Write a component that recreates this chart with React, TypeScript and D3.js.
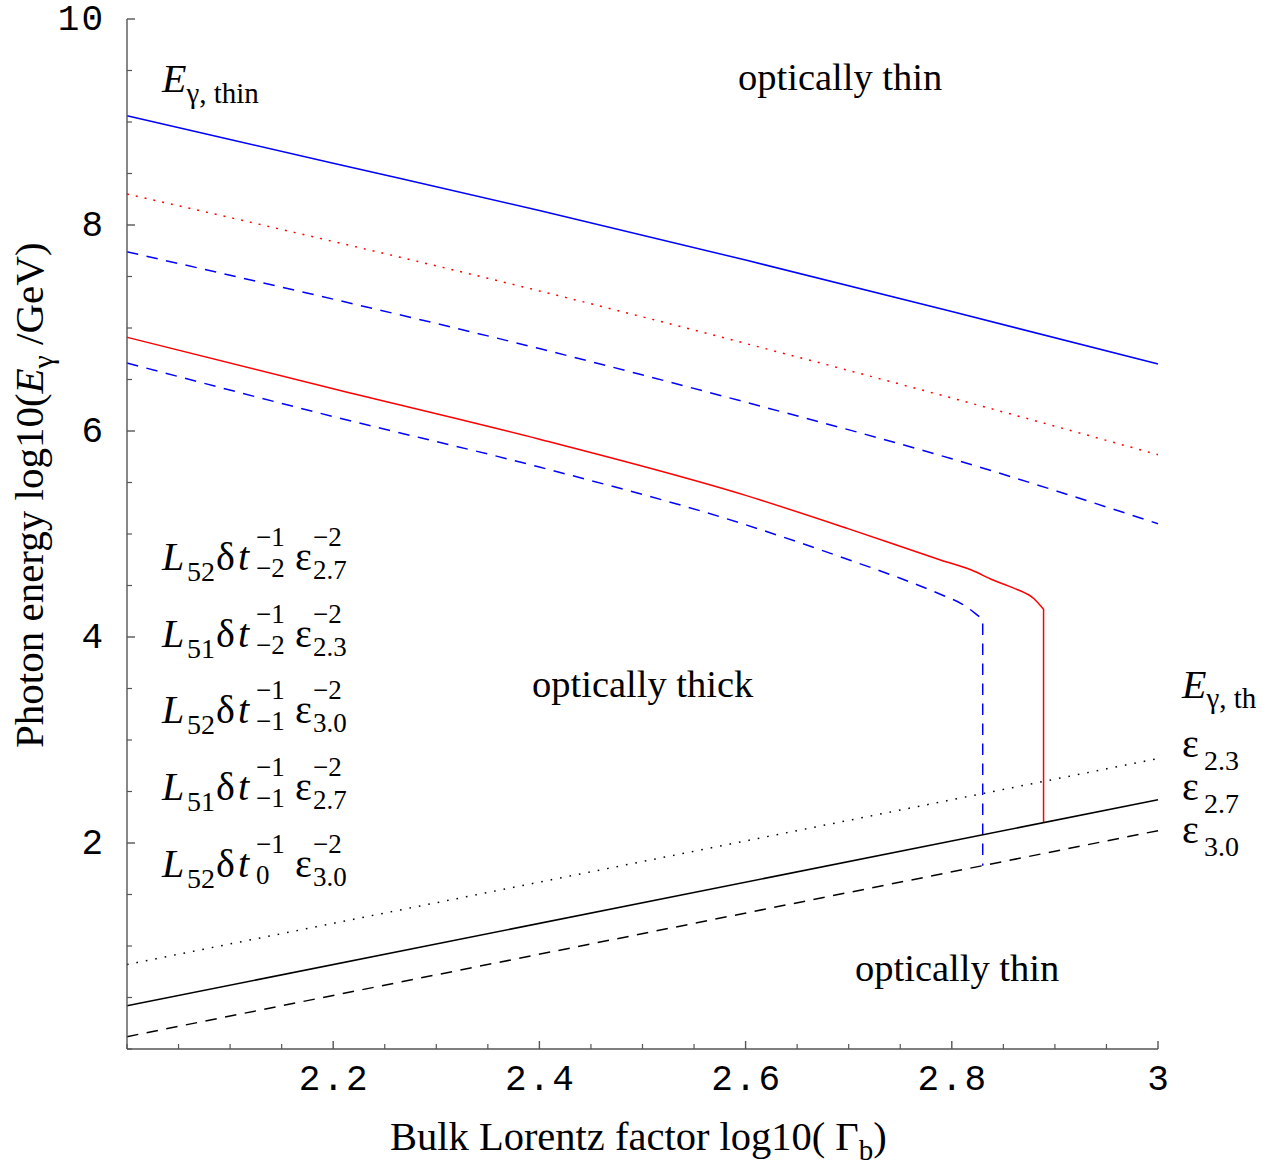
import React from "react";
import * as d3 from "d3";

const W = 1275;
const H = 1167;

// axes
const X_DOMAIN = [2, 3];
const Y_DOMAIN = [0, 10];
const xMajorTicks = [2.2, 2.4, 2.6, 2.8, 3];
const xTickLabels = ["2.2", "2.4", "2.6", "2.8", "3"];
const yMajorTicks = [2, 4, 6, 8, 10];
const yTickLabels = ["2", "4", "6", "8", "10"];

// optically thin boundaries (upper)
const thinX = [2.0, 2.2, 2.4, 2.6, 2.8, 3.0];
const thinBlueSolidY = [9.06, 8.6, 8.14, 7.66, 7.16, 6.65];
const thinRedDottedY = [8.3, 7.84, 7.36, 6.85, 6.32, 5.77];
const thinBlueDashedY = [7.74, 7.28, 6.8, 6.28, 5.73, 5.1];

// optically thick boundaries (with cutoff)
const thickRedX = [2.0, 2.2, 2.4, 2.6, 2.7, 2.789, 2.819, 2.84, 2.859, 2.88, 2.889, 2.889];
const thickRedY = [6.91, 6.41, 5.92, 5.375, 5.05, 4.748, 4.65, 4.553, 4.479, 4.369, 4.269, 2.198];
const thickBlueX = [2.0, 2.2, 2.4, 2.6, 2.7, 2.75, 2.79, 2.81, 2.822, 2.83, 2.83];
const thickBlueY = [6.66, 6.14, 5.65, 5.09, 4.75, 4.57, 4.41, 4.32, 4.235, 4.17, 1.78];

// threshold energies E_gamma,th
const thX = [2.0, 3.0];
const th23Y = [0.82, 2.82];
const th27Y = [0.42, 2.42];
const th30Y = [0.12, 2.12];

// legend formulas: [L subscript, dt subscript, epsilon subscript]
const legendL = ["52", "51", "52", "51", "52"];
const legendT = ["\u22122", "\u22122", "\u22121", "\u22121", "0"];
const legendE = ["2.7", "2.3", "3.0", "2.7", "3.0"];

const SERIF = "'Liberation Serif', 'Times New Roman', serif";
const MONO = "'Liberation Mono', 'DejaVu Sans Mono', monospace";

export default function App() {
  const x = d3.scaleLinear().domain(X_DOMAIN).range([127, 1158]);
  const y = d3.scaleLinear().domain(Y_DOMAIN).range([1049, 19]);

  // smooth curve through the readings; a trailing vertical drop is appended straight
  const curve = (xs: number[], ys: number[], dropLast = false) => {
    const n = dropLast ? xs.length - 1 : xs.length;
    const pts: [number, number][] = xs.slice(0, n).map((v, i) => [x(v), y(ys[i])]);
    let d = d3.line().curve(d3.curveMonotoneX)(pts) || "";
    if (dropLast) d += `L${x(xs[xs.length - 1])},${y(ys[ys.length - 1])}`;
    return d;
  };

  const xMinor = d3.range(2, 3.0001, 0.05).filter(
    (v) => !xMajorTicks.some((m) => Math.abs(m - v) < 1e-6)
  );
  const yMinor = d3.range(0, 10.0001, 0.5).filter(
    (v) => !yMajorTicks.some((m) => Math.abs(m - v) < 1e-6)
  );

  const axisColor = "#555";
  const sw = 1.5;

  return (
    <svg
      width={W}
      height={H}
      style={{ position: "absolute", left: 0, top: 0, background: "#fff" }}
    >
      <rect width={W} height={H} fill="#fff" />

      {/* curves */}
      <path d={curve(thinX, thinBlueSolidY)} fill="none" stroke="#0000ff" strokeWidth={sw} />
      <path d={curve(thinX, thinRedDottedY)} fill="none" stroke="#ff0000" strokeWidth={sw} strokeDasharray="2,7" />
      <path d={curve(thinX, thinBlueDashedY)} fill="none" stroke="#0000ff" strokeWidth={sw} strokeDasharray="11.5,8.5" />
      <path d={curve(thickRedX, thickRedY, true)} fill="none" stroke="#ff0000" strokeWidth={sw} />
      <path d={curve(thickBlueX, thickBlueY, true)} fill="none" stroke="#0000ff" strokeWidth={sw} strokeDasharray="11.5,8.5" />
      <path d={curve(thX, th23Y)} fill="none" stroke="#000" strokeWidth={sw} strokeDasharray="1.6,8" />
      <path d={curve(thX, th27Y)} fill="none" stroke="#000" strokeWidth={sw} />
      <path d={curve(thX, th30Y)} fill="none" stroke="#000" strokeWidth={sw} strokeDasharray="11.5,8.5" />

      {/* axes */}
      <line x1={x(2)} x2={x(3)} y1={y(0)} y2={y(0)} stroke={axisColor} strokeWidth={1.4} />
      <line x1={x(2)} x2={x(2)} y1={y(0)} y2={y(10)} stroke={axisColor} strokeWidth={1.4} />
      {xMajorTicks.map((t) => (
        <line key={"xM" + t} x1={x(t)} x2={x(t)} y1={y(0)} y2={y(0) - 8} stroke={axisColor} strokeWidth={1.4} />
      ))}
      {xMinor.map((t) => (
        <line key={"xm" + t} x1={x(t)} x2={x(t)} y1={y(0)} y2={y(0) - 5} stroke={axisColor} strokeWidth={1.2} />
      ))}
      {yMajorTicks.map((t) => (
        <line key={"yM" + t} x1={x(2)} x2={x(2) + 8} y1={y(t)} y2={y(t)} stroke={axisColor} strokeWidth={1.4} />
      ))}
      {yMinor.map((t) => (
        <line key={"ym" + t} x1={x(2)} x2={x(2) + 5} y1={y(t)} y2={y(t)} stroke={axisColor} strokeWidth={1.2} />
      ))}
      {xMajorTicks.map((t, i) => (
        <text key={"xl" + t} x={x(t) + 1} y={y(0) + 41} textAnchor="middle" fontFamily={MONO} fontSize={36} letterSpacing={2}>
          {xTickLabels[i]}
        </text>
      ))}
      {yMajorTicks.map((t, i) => (
        <text key={"yl" + t} x={105} y={y(t) + 11} textAnchor="end" fontFamily={MONO} fontSize={36} letterSpacing={2}>
          {yTickLabels[i]}
        </text>
      ))}

      {/* axis titles */}
      <text x={390} y={1150} fontFamily={SERIF} fontSize={40.5}>
        Bulk Lorentz factor log10( Γ<tspan fontSize={29} dy={10}>b</tspan>
        <tspan dy={-10}>)</tspan>
      </text>
      <text transform="translate(43,748) rotate(-90)" fontFamily={SERIF} fontSize={41}>
        Photon energy log10(<tspan fontStyle="italic">E</tspan>
        <tspan fontSize={30} dy={10}>γ</tspan>
        <tspan dy={-10}> /GeV)</tspan>
      </text>

      {/* region labels */}
      <text x={738} y={90} fontFamily={SERIF} fontSize={38.5}>optically thin</text>
      <text x={532} y={697} fontFamily={SERIF} fontSize={38.5}>optically thick</text>
      <text x={855} y={981} fontFamily={SERIF} fontSize={38.5}>optically thin</text>

      {/* E_gamma,thin */}
      <text x={162} y={92} fontFamily={SERIF} fontSize={40}>
        <tspan fontStyle="italic">E</tspan>
        <tspan fontSize={29} dy={11}>γ, thin</tspan>
      </text>

      {/* right labels */}
      <text x={1182} y={698} fontFamily={SERIF} fontSize={40}>
        <tspan fontStyle="italic">E</tspan>
        <tspan fontSize={29} dy={10}>γ, th</tspan>
      </text>
      {["2.3", "2.7", "3.0"].map((s, i) => {
        const base = [757, 800, 843][i];
        return (
          <g key={"eps" + s} fontFamily={SERIF}>
            <text x={1182} y={base} fontSize={40}>ε</text>
            <text x={1204} y={base + 13} fontSize={28}>{s}</text>
          </g>
        );
      })}

      {/* legend formulas */}
      {legendL.map((l, i) => {
        const b = 570 + i * 76.7;
        return (
          <g key={"leg" + i} fontFamily={SERIF}>
            <text x={162} y={b} fontSize={40} fontStyle="italic">L</text>
            <text x={187} y={b + 11} fontSize={28}>{l}</text>
            <text x={216} y={b} fontSize={40}>δ</text>
            <text x={238} y={b} fontSize={40} fontStyle="italic">t</text>
            <text x={256} y={b - 24} fontSize={27}>{"\u22121"}</text>
            <text x={256} y={b + 7} fontSize={27}>{legendT[i]}</text>
            <text x={295} y={b} fontSize={40}>ε</text>
            <text x={313} y={b - 24} fontSize={27}>{"\u22122"}</text>
            <text x={313} y={b + 9} fontSize={27}>{legendE[i]}</text>
          </g>
        );
      })}
    </svg>
  );
}
